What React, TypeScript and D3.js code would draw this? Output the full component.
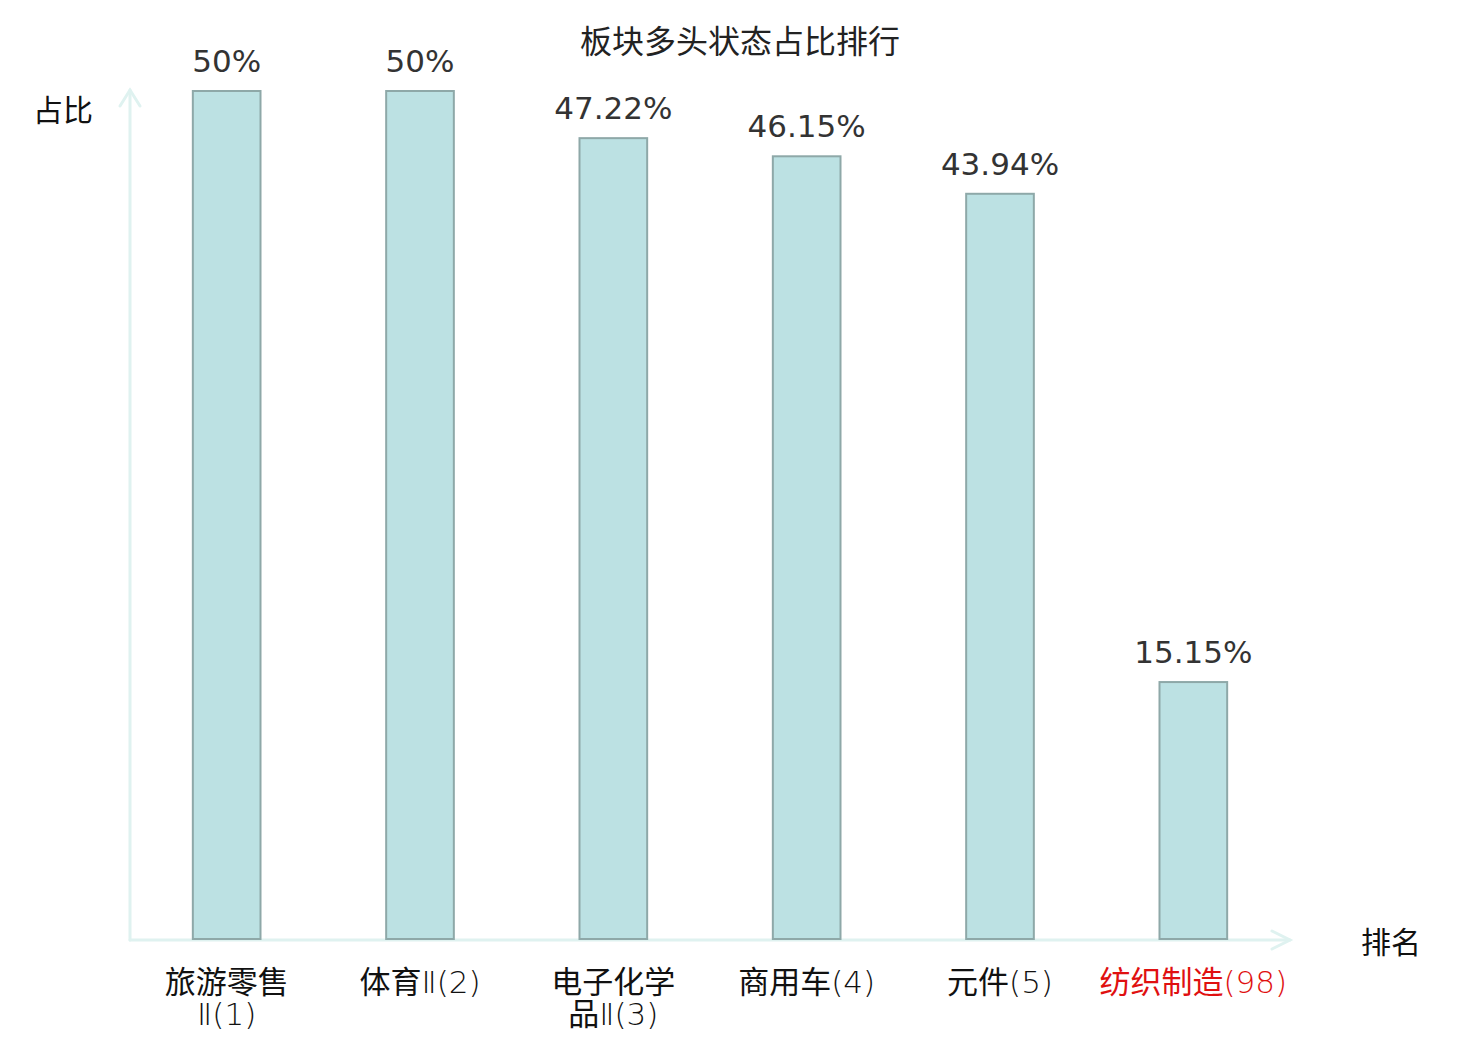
import React from "react";
import * as d3 from "d3";

const title = "板块多头状态占比排行";
const categories = ["旅游零售Ⅱ(1)", "体育Ⅱ(2)", "电子化学品Ⅱ(3)", "商用车(4)", "元件(5)", "纺织制造(98)"];
const labelLines = [["旅游零售", "Ⅱ(1)"], ["体育Ⅱ(2)"], ["电子化学", "品Ⅱ(3)"], ["商用车(4)"], ["元件(5)"], ["纺织制造(98)"]];
const values = [50, 50, 47.22, 46.15, 43.94, 15.15];
const valueLabels = ["50%", "50%", "47.22%", "46.15%", "43.94%", "15.15%"];
const highlighted = ["纺织制造(98)"];

const width = 1480;
const height = 1040;
const margin = { left: 130, right: 190, top: 91, bottom: 100 };
const axisColor = "#dff2f0";
const font = "'DejaVu Sans', 'Noto Sans CJK SC', sans-serif";
const cjkFont = "'Noto Sans CJK SC', sans-serif";

// split a label line into CJK runs (regular) and latin runs (light)
const splitRuns = (s: string) => s.match(/[\u4e00-\u9fff]+|[^\u4e00-\u9fff]+/g) ?? [];

const App: React.FC = () => {
    const x = d3
        .scaleBand<string>()
        .domain(categories)
        .range([margin.left, width - margin.right])
        .paddingInner(0.65)
        .paddingOuter(0.325);

    const y = d3
        .scaleLinear()
        .domain([0, 50])
        .range([height - margin.bottom - 1, margin.top]);

    const x0 = margin.left;
    const y0 = height - margin.bottom;
    const xEnd = width - margin.right;

    return (
        <div style={{ position: "absolute", left: 0, top: 0 }}>
            <svg width={width} height={height} style={{ display: "block", background: "#fff" }}>
                <text x={740} y={53} textAnchor="middle" fontFamily={font} fontSize={32} fill="#222">
                    {title}
                </text>

                {/* axes with arrows */}
                <g stroke={axisColor} strokeWidth={3} fill="none" strokeLinecap="round">
                    <line x1={x0} y1={y0} x2={x0} y2={90} />
                    <polyline points={`${x0 - 10},${106} ${x0},${90} ${x0 + 10},${106}`} />
                    <line x1={x0} y1={y0} x2={xEnd} y2={y0} />
                    <polyline points={`${xEnd - 18},${y0 - 9} ${xEnd},${y0} ${xEnd - 18},${y0 + 9}`} />
                </g>
                <text x={63} y={121} textAnchor="middle" fontFamily={font} fontSize={30} fill="#111">
                    占比
                </text>
                <text x={1391} y={953} textAnchor="middle" fontFamily={font} fontSize={30} fill="#111">
                    排名
                </text>

                {/* bars */}
                {categories.map((c, i) => {
                    const cx = (x(c) ?? 0) + x.bandwidth() / 2;
                    return (
                        <g key={c}>
                            <rect
                                x={x(c)}
                                y={y(values[i])}
                                width={x.bandwidth()}
                                height={y(0) - y(values[i])}
                                fill="#bce1e3"
                                stroke="#8ea8a8"
                                strokeWidth={2}
                            />
                            <text
                                x={cx}
                                y={y(values[i]) - 19}
                                textAnchor="middle"
                                fontFamily={font}
                                fontSize={31}
                                fill="#333"
                            >
                                {valueLabels[i]}
                            </text>
                            {labelLines[i].map((line, j) => (
                                <text
                                    key={j}
                                    x={cx}
                                    y={993 + j * 32}
                                    textAnchor="middle"
                                    fontSize={31}
                                    fill={highlighted.includes(c) ? "#e01010" : "#111"}
                                >
                                    {splitRuns(line).map((run, k) =>
                                        /[\u4e00-\u9fff]/.test(run) ? (
                                            <tspan key={k} fontFamily={cjkFont}>
                                                {run}
                                            </tspan>
                                        ) : (
                                            <tspan key={k} fontFamily="'DejaVu Sans', sans-serif" fontWeight={200}>
                                                {run}
                                            </tspan>
                                        )
                                    )}
                                </text>
                            ))}
                        </g>
                    );
                })}
            </svg>
        </div>
    );
};

export default App;
